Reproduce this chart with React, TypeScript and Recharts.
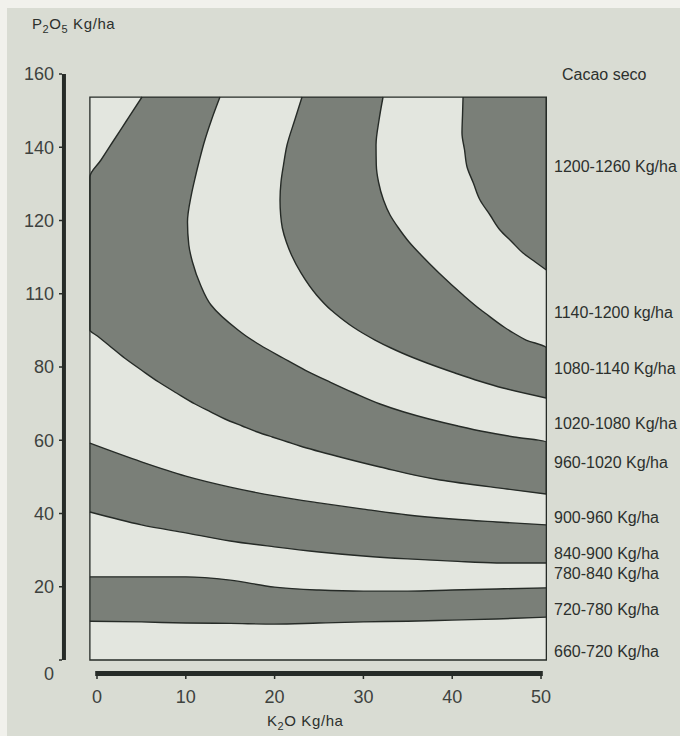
import React from "react";
import {
  ComposedChart,
  Area,
  XAxis,
  YAxis,
  ReferenceLine,
  ReferenceArea,
} from "recharts";

const WIDTH = 680;
const HEIGHT = 736;
const FONT = '"Liberation Sans", Arial, Helvetica, sans-serif';

const PAPER = "#d9dcd3";
const PAPER_EDGE = "#f1f1ec";
const FIELD = "#e3e6df";
const SHADE = "#7a7f78";
const INK = "#262b27";
const TEXT = "#2c302d";
const TICK_TEXT = "#3e423e";

// axis domains (K2O kg/ha horizontally, P2O5 kg/ha vertically)
const kDomain = [-3.94, 50.56];
const pDomain = [-3.82, 160];
// the framed response surface
const frameK = [-0.8, 50.6];
const frameP = [0, 153.7];

const xTicks = [0, 10, 20, 30, 40, 50];
const yTicks = [0, 20, 40, 60, 80, 100, 120, 140, 160];
const yTickLabels = ["0", "20", "40", "60", "80", "110", "120", "140", "160"];

// yield classes written on the right, with the P2O5 level they sit at
const bandLabels = [
  "1200-1260 Kg/ha",
  "1140-1200 kg/ha",
  "1080-1140 Kg/ha",
  "1020-1080 Kg/ha",
  "960-1020 Kg/ha",
  "900-960 Kg/ha",
  "840-900 Kg/ha",
  "780-840 Kg/ha",
  "720-780 Kg/ha",
  "660-720 Kg/ha",
];
const bandLabelP = [134.9, 95.0, 79.7, 64.7, 54.1, 39.0, 29.2, 23.8, 13.9, 2.5];

// lower (flat) bands: P2O5 limits against K2O
const kSteps = [-0.8, 5, 10, 15, 20, 25, 30, 35, 40, 45, 50.6];
const band840Top = [59.2, 54.1, 50.2, 47.2, 44.8, 42.9, 41.2, 39.6, 38.5, 37.7, 36.9];
const band840Bottom = [40.4, 36.9, 34.7, 32.5, 30.9, 29.5, 28.4, 27.6, 27.0, 26.5, 26.5];
const band720Top = [22.7, 22.7, 22.7, 21.8, 19.9, 19.1, 18.8, 18.8, 19.1, 19.4, 19.7];
const band720Bottom = [10.6, 10.4, 10.1, 10.0, 9.8, 10.1, 10.4, 10.6, 10.9, 11.2, 11.7];

// upper (curved) bands: [P2O5, K2O left limit, K2O right limit]
const band960 = [
  [153.72, 5.07, 13.85],
  [147.44, 3.38, 12.89],
  [141.16, 1.69, 12.05],
  [136.52, 0.45, 11.54],
  [131.88, -0.8, 11.07],
  [126.96, -0.8, 10.62],
  [119.59, -0.8, 10.19],
  [113.31, -0.8, 10.34],
  [108.67, -0.8, 10.75],
  [102.39, -0.8, 11.66],
  [96.93, -0.8, 12.84],
  [90.1, -0.8, 15.88],
  [88.46, 0.05, 16.78],
  [86.01, 1.3, 18.36],
  [82.46, 3.1, 20.95],
  [79.18, 4.99, 23.42],
  [75.9, 6.94, 26.24],
  [72.9, 8.95, 28.94],
  [69.9, 11.04, 31.87],
  [67.71, 12.84, 34.57],
  [65.8, 14.41, 37.39],
  [63.89, 16.35, 40.65],
  [62.25, 18.07, 43.81],
  [60.89, 19.74, 46.96],
  [59.52, 21.48, 50.6],
  [58.43, 22.86, 50.6],
  [55.43, 27.36, 50.6],
  [52.7, 31.87, 50.6],
  [49.15, 38.63, 50.6],
  [46.69, 46.17, 50.6],
  [45.32, 50.6, 50.6],
];
const band1080 = [
  [153.72, 23.09, 32.21],
  [147.44, 22.27, 31.76],
  [140.61, 21.4, 31.42],
  [135.15, 21.0, 31.45],
  [130.51, 20.72, 31.7],
  [125.6, 20.61, 32.26],
  [121.5, 20.68, 33.0],
  [117.95, 20.87, 33.95],
  [114.13, 21.32, 35.14],
  [110.58, 21.9, 36.49],
  [105.67, 22.97, 38.51],
  [99.66, 24.72, 41.22],
  [95.56, 26.35, 43.24],
  [94.74, 26.75, 43.69],
  [90.92, 28.83, 45.83],
  [89.28, 29.9, 46.9],
  [87.37, 31.31, 48.31],
  [85.19, 33.11, 50.6],
  [83.82, 34.35, 50.6],
  [81.09, 37.16, 50.6],
  [78.36, 40.32, 50.6],
  [76.18, 43.02, 50.6],
  [74.27, 45.72, 50.6],
  [71.54, 50.6, 50.6],
];
const band1200 = [
  [153.72, 41.22, 50.6],
  [148.81, 41.16, 50.6],
  [143.89, 41.1, 50.6],
  [139.25, 41.39, 50.6],
  [134.61, 41.67, 50.6],
  [130.24, 42.38, 50.6],
  [125.6, 43.13, 50.6],
  [121.5, 44.26, 50.6],
  [117.41, 45.38, 50.6],
  [114.13, 46.73, 50.6],
  [111.13, 47.97, 50.6],
  [108.67, 49.35, 50.6],
  [106.48, 50.6, 50.6],
];

const flatRows = kSteps.map((k, i) => ({
  k,
  frame: frameP,
  d: [band840Bottom[i], band840Top[i]],
  e: [band720Bottom[i], band720Top[i]],
}));

const none = [null, null];
const arcRows = [
  ...band960.map(([p, lo, hi]) => ({ p, a: [lo, hi], b: none, c: none })),
  ...band1080.map(([p, lo, hi]) => ({ p, a: none, b: [lo, hi], c: none })),
  ...band1200.map(([p, lo, hi]) => ({ p, a: none, b: none, c: [lo, hi] })),
].sort((r, s) => s.p - r.p);

const LeftTick = ({ x, y, payload }: any) => (
  <text
    x={x}
    y={y + (payload.value === 0 ? 14 : 0)}
    dy="0.36em"
    textAnchor="end"
    fontSize={18}
    fill={TICK_TEXT}
    fontFamily={FONT}
  >
    {yTickLabels[yTicks.indexOf(payload.value)]}
  </text>
);

const RightTick = ({ x, y, payload }: any) => (
  <text x={x} y={y} dy="0.36em" textAnchor="start" fontSize={16} fill={TEXT} fontFamily={FONT}>
    {bandLabels[bandLabelP.indexOf(payload.value)]}
  </text>
);

const BottomTick = ({ x, y, payload }: any) => (
  <text x={x} y={y} dy="0.71em" textAnchor="middle" fontSize={18} fill={TICK_TEXT} fontFamily={FONT}>
    {payload.value}
  </text>
);

const layer: React.CSSProperties = { position: "absolute", left: 0, top: 0 };

export default function App() {
  return (
    <div style={{ ...layer, width: WIDTH, height: HEIGHT, background: PAPER_EDGE, overflow: "hidden" }}>
      <div style={{ position: "absolute", left: 7, top: 8, right: 0, bottom: 0, background: PAPER }} />

      {/* axes, frame fill and the two flat bands */}
      <div style={layer}>
        <ComposedChart
          width={WIDTH}
          height={HEIGHT}
          data={flatRows}
          margin={{ top: 74, right: 0, bottom: 22, left: 0 }}
        >
          <XAxis
            dataKey="k"
            type="number"
            domain={kDomain}
            allowDataOverflow
            ticks={xTicks}
            interval={0}
            axisLine={false}
            tickLine={{ stroke: INK, strokeWidth: 1.5 }}
            tickSize={5}
            tickMargin={11}
            height={40}
            tick={<BottomTick />}
          />
          <YAxis
            yAxisId="left"
            type="number"
            domain={pDomain}
            allowDataOverflow
            ticks={yTicks}
            interval={0}
            axisLine={false}
            tickLine={{ stroke: INK, strokeWidth: 1.5 }}
            tickSize={3}
            tickMargin={5}
            width={62}
            tick={<LeftTick />}
          />
          <YAxis
            yAxisId="right"
            orientation="right"
            type="number"
            domain={pDomain}
            allowDataOverflow
            ticks={bandLabelP}
            interval={0}
            axisLine={false}
            tickLine={false}
            tickSize={6}
            tickMargin={2}
            width={134}
            tick={<RightTick />}
          />
          <Area
            yAxisId="left"
            dataKey="frame"
            type="linear"
            fill={FIELD}
            fillOpacity={1}
            stroke="none"
            isAnimationActive={false}
            dot={false}
            activeDot={false}
          />
          <Area
            yAxisId="left"
            dataKey="d"
            type="monotone"
            fill={SHADE}
            fillOpacity={1}
            stroke={INK}
            strokeWidth={1.4}
            isAnimationActive={false}
            dot={false}
            activeDot={false}
          />
          <Area
            yAxisId="left"
            dataKey="e"
            type="monotone"
            fill={SHADE}
            fillOpacity={1}
            stroke={INK}
            strokeWidth={1.4}
            isAnimationActive={false}
            dot={false}
            activeDot={false}
          />
          <ReferenceLine
            yAxisId="left"
            segment={[{ x: -3.72, y: 0 }, { x: -3.72, y: 160 }]}
            stroke={INK}
            strokeWidth={4}
            ifOverflow="visible"
          />
          <ReferenceLine
            yAxisId="left"
            segment={[{ x: -0.2, y: -3.69 }, { x: 50.2, y: -3.69 }]}
            stroke={INK}
            strokeWidth={5}
            ifOverflow="visible"
          />
        </ComposedChart>
      </div>

      {/* curved bands of the upper part, K2O limits against P2O5 */}
      <div style={layer}>
        <ComposedChart
          layout="vertical"
          width={WIDTH}
          height={HEIGHT}
          data={arcRows}
          margin={{ top: 74, right: 134, bottom: 62, left: 62 }}
        >
          <XAxis type="number" domain={kDomain} allowDataOverflow hide />
          <YAxis type="number" dataKey="p" domain={pDomain} allowDataOverflow reversed hide />
          {["a", "b", "c"].map((key) => (
            <Area
              key={key}
              dataKey={key}
              type="monotone"
              connectNulls
              fill={SHADE}
              fillOpacity={1}
              stroke={INK}
              strokeWidth={1.4}
              isAnimationActive={false}
              dot={false}
              activeDot={false}
            />
          ))}
          <ReferenceArea
            x1={frameK[0]}
            x2={frameK[1]}
            y1={frameP[0]}
            y2={frameP[1]}
            fill="none"
            stroke={INK}
            strokeWidth={1.3}
            ifOverflow="visible"
          />
        </ComposedChart>
      </div>

      <svg width={WIDTH} height={HEIGHT} style={{ ...layer, pointerEvents: "none" }}>
        <text x={32} y={29} fontSize={15} fill={TEXT} fontFamily={FONT} letterSpacing={0.6}>
          P<tspan dy={4} fontSize={11}>2</tspan>
          <tspan dy={-4}>O</tspan>
          <tspan dy={4} fontSize={11}>5</tspan>
          <tspan dy={-4}> Kg/ha</tspan>
        </text>
        <text x={267} y={726} fontSize={15} fill={TEXT} fontFamily={FONT} letterSpacing={0.6}>
          K<tspan dy={4} fontSize={11}>2</tspan>
          <tspan dy={-4}>O Kg/ha</tspan>
        </text>
        <text x={562} y={80} fontSize={16} fill={TEXT} fontFamily={FONT}>
          Cacao seco
        </text>
      </svg>
    </div>
  );
}
